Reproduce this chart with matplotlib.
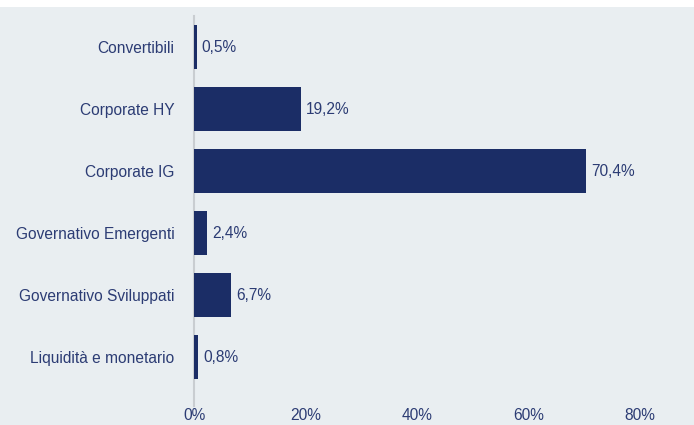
import matplotlib
matplotlib.use("Agg")
import matplotlib.pyplot as plt
from matplotlib.patches import Rectangle

categories = ["Convertibili", "Corporate HY", "Corporate IG",
              "Governativo Emergenti", "Governativo Sviluppati", "Liquidità e monetario"]
values = [0.5, 19.2, 70.4, 2.4, 6.7, 0.8]
xticks = [0, 20, 40, 60, 80]
xtick_labels = ["0%", "20%", "40%", "60%", "80%"]

plt.rcParams['font.family'] = ['Liberation Sans', 'DejaVu Sans']

W, H = 694, 425
fig = plt.figure(figsize=(W/100, H/100), dpi=100, facecolor="white")
bg = "#e9eef1"
fig.patches.append(Rectangle((0, 0), 1, 1 - 7/H, transform=fig.transFigure,
                             facecolor=bg, edgecolor="none", zorder=-10))

ax = fig.add_axes([194/W, (H-406)/H, (W-194)/W, (406-16)/H])
ax.set_facecolor("none")

bar_color = "#1b2d66"
text_color = "#2c3c74"
fs = 11.2
y = list(range(len(categories)))
ax.barh(y, values, height=0.71, color=bar_color, zorder=3)

for yi, v in zip(y, values):
    ax.annotate(f"{v:.1f}%".replace(".", ","), (v, yi), xytext=(3.2, 0),
                textcoords="offset points", va="center", ha="left",
                fontsize=fs, color=text_color)

ax.set_ylim(5.79, -0.5)
ax.set_xlim(0, 89.7)
ax.set_yticks(y)
ax.set_yticklabels(categories, fontsize=fs, color=text_color)
ax.set_xticks(xticks)
ax.set_xticklabels(xtick_labels, fontsize=fs, color=text_color)
ax.tick_params(axis="both", length=0)
ax.tick_params(axis="y", pad=14)
ax.tick_params(axis="x", pad=1.5)

for s in ["top", "right", "bottom"]:
    ax.spines[s].set_visible(False)
ax.spines["left"].set_color("#c9cdd1")
ax.spines["left"].set_linewidth(1.5)

fig.savefig("out.png", dpi=100, facecolor=fig.get_facecolor())
